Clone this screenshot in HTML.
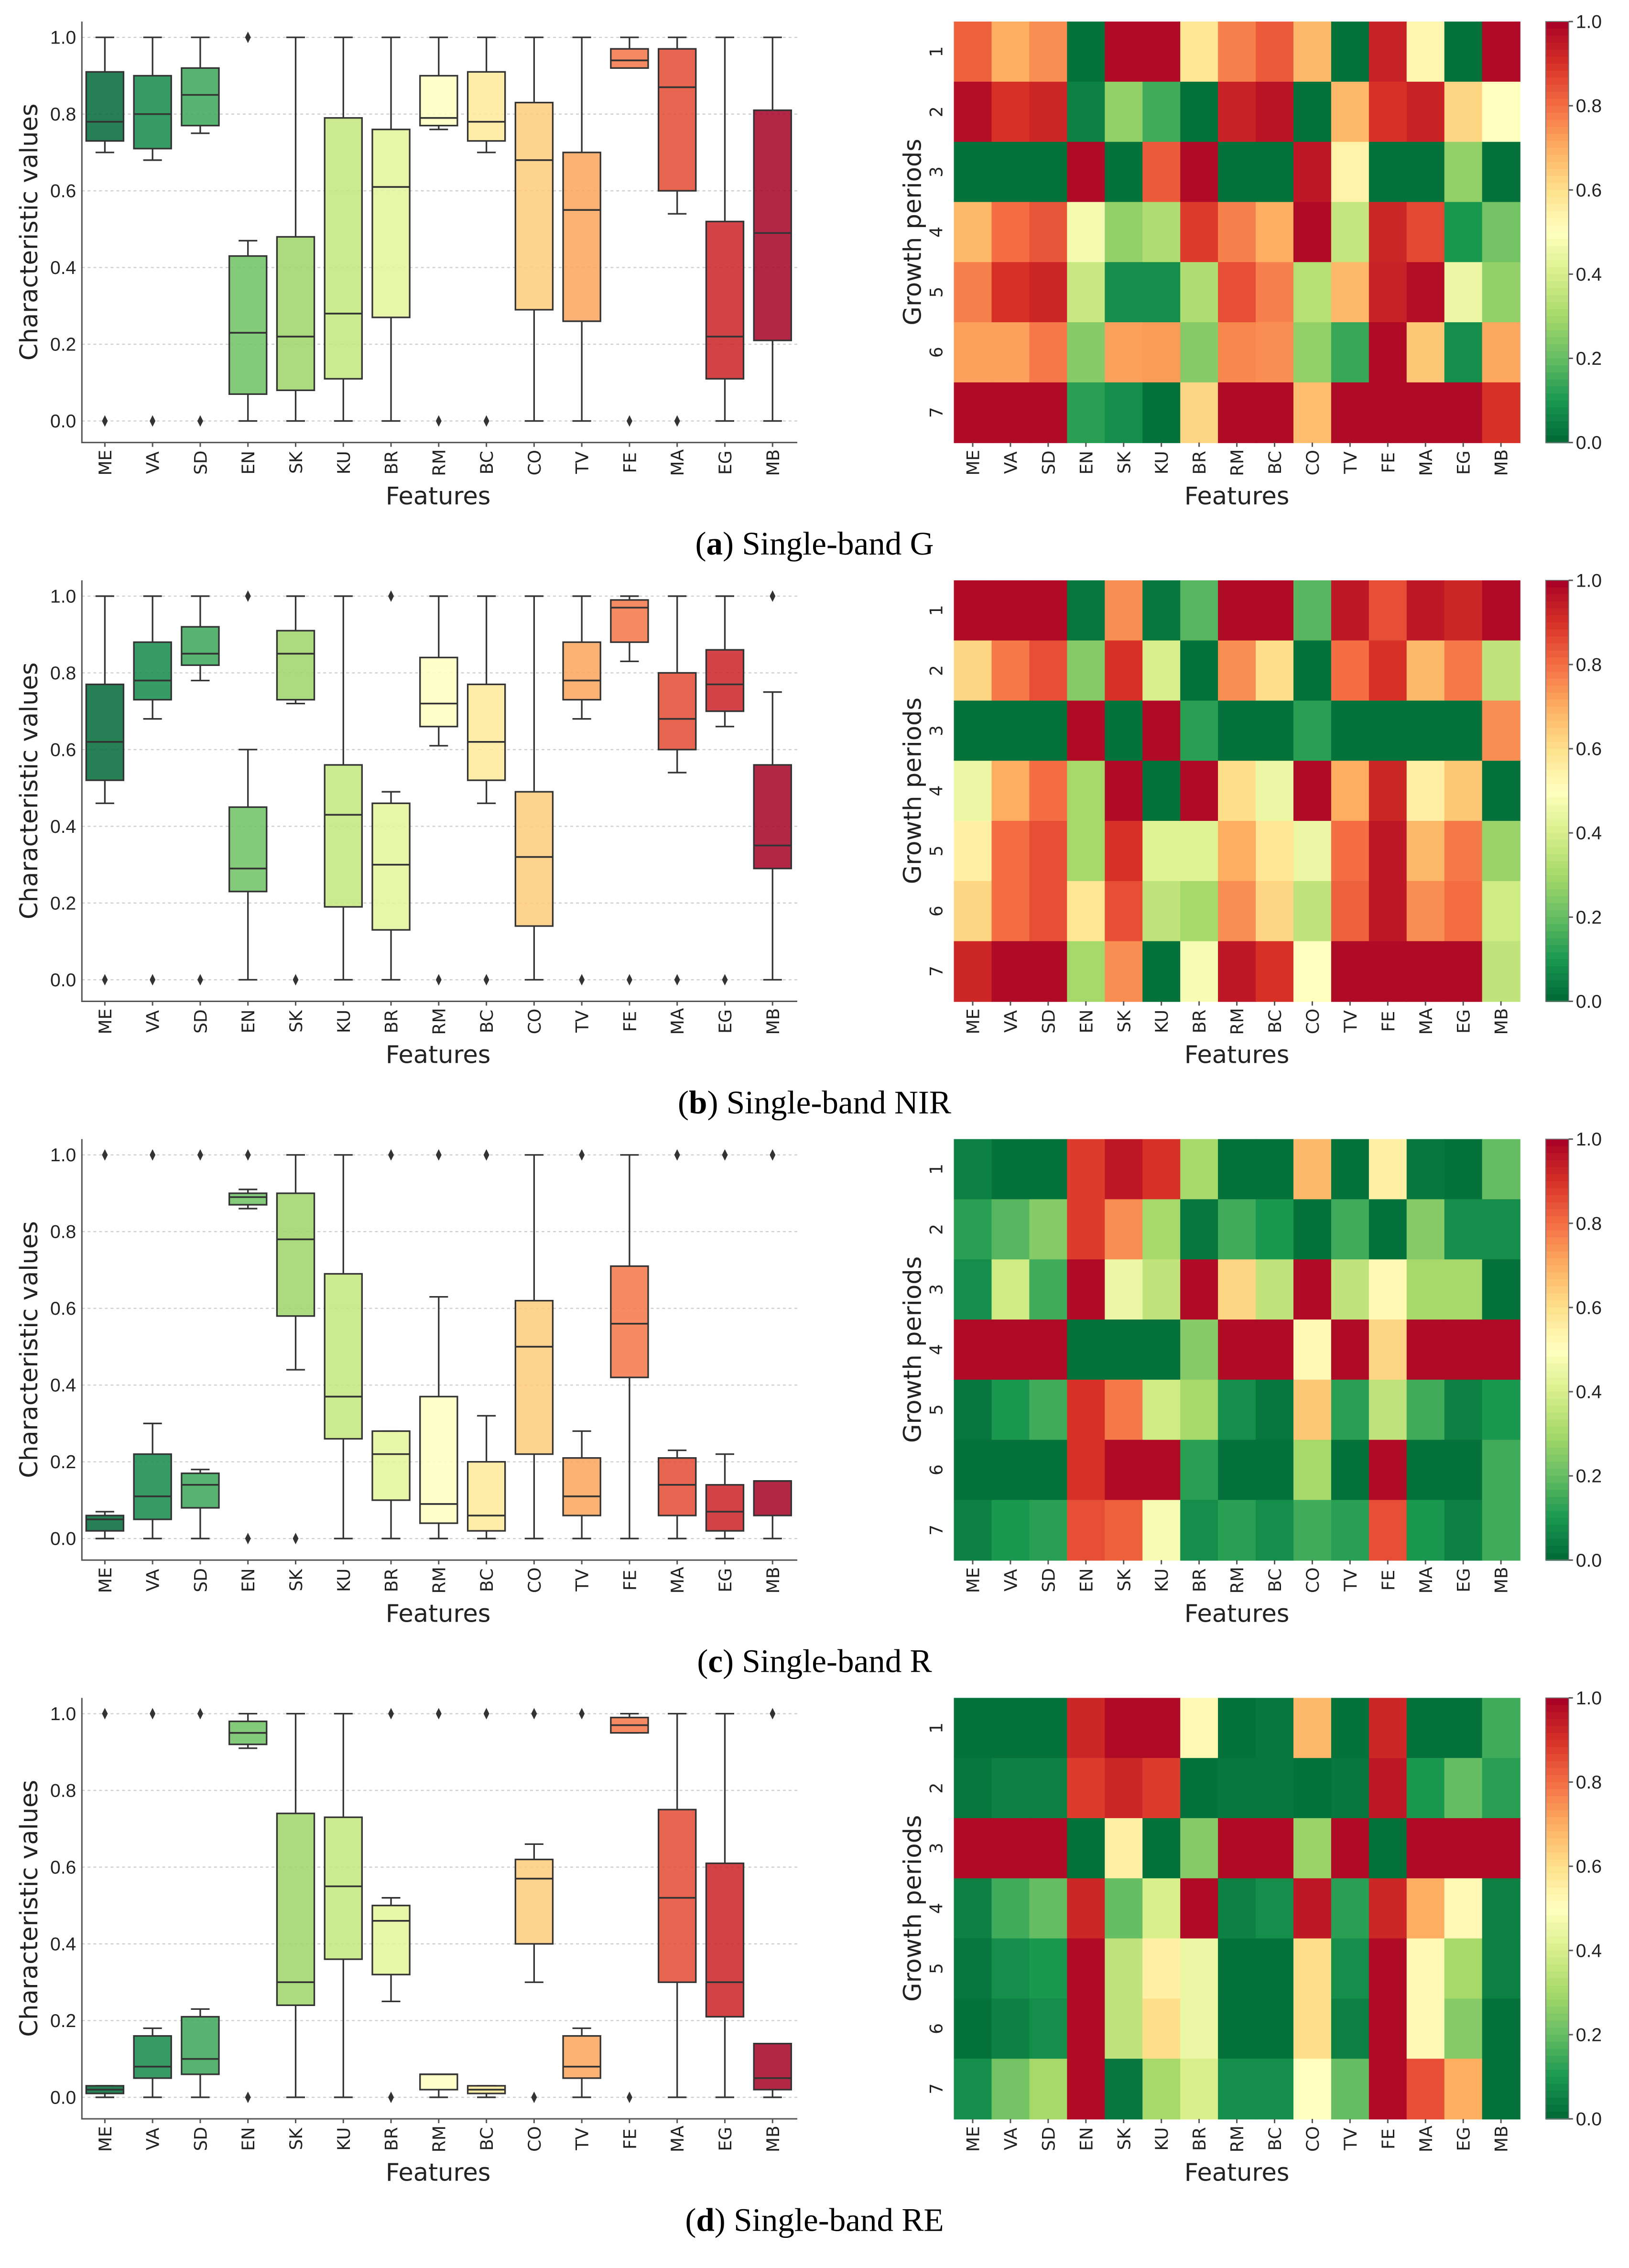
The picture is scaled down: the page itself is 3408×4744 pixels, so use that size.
<!DOCTYPE html>
<html><head><meta charset="utf-8">
<style>
html,body{margin:0;padding:0;background:#fff;}
svg{display:block;}
.tk{font-family:"Liberation Sans Narrow","Liberation Sans",sans-serif;font-size:13px;fill:#222;}
.cat{font-family:"DejaVu Sans","Liberation Sans",sans-serif;font-size:12px;fill:#222;}
.ax{font-family:"DejaVu Sans","Liberation Sans",sans-serif;font-size:17px;fill:#222;}
.cap{font-family:"Liberation Serif",serif;font-size:23px;fill:#000;}
</style></head>
<body>
<svg id="fig" width="3408" height="4744" viewBox="0 0 1134 1578.5" preserveAspectRatio="none" xmlns="http://www.w3.org/2000/svg"></svg>
<script>
const features=["ME","VA","SD","EN","SK","KU","BR","RM","BC","CO","TV","FE","MA","EG","MB"];
const periods=["1","2","3","4","5","6","7"];
const captions=[["a","Single-band G"],["b","Single-band NIR"],["c","Single-band R"],["d","Single-band RE"]];
const yTicks=[0,0.2,0.4,0.6,0.8,1.0];
const cbTicks=[0,0.2,0.4,0.6,0.8,1.0];
// boxplot stats per panel: [whiskerLow, q1, median, q3, whiskerHigh]
const boxA=[[.70,.73,.78,.91,1],[.68,.71,.80,.90,1],[.75,.77,.85,.92,1],[0,.07,.23,.43,.47],[0,.08,.22,.48,1],[0,.11,.28,.79,1],[0,.27,.61,.76,1],[.76,.77,.79,.90,1],[.70,.73,.78,.91,1],[0,.29,.68,.83,1],[0,.26,.55,.70,1],[.92,.92,.94,.97,1],[.54,.60,.87,.97,1],[0,.11,.22,.52,1],[0,.21,.49,.81,1]];
const outA=[[0],[0],[0],[1],[],[],[],[0],[0],[],[],[0],[0],[],[]];
const boxB=[[.46,.52,.62,.77,1],[.68,.73,.78,.88,1],[.78,.82,.85,.92,1],[0,.23,.29,.45,.60],[.72,.73,.85,.91,1],[0,.19,.43,.56,1],[0,.13,.30,.46,.49],[.61,.66,.72,.84,1],[.46,.52,.62,.77,1],[0,.14,.32,.49,1],[.68,.73,.78,.88,1],[.83,.88,.97,.99,1],[.54,.60,.68,.80,1],[.66,.70,.77,.86,1],[0,.29,.35,.56,.75]];
const outB=[[0],[0],[0],[1],[0],[],[1],[0],[0],[],[0],[0],[0],[0],[1]];
const boxC=[[0,.02,.05,.06,.07],[0,.05,.11,.22,.30],[0,.08,.14,.17,.18],[.86,.87,.89,.90,.91],[.44,.58,.78,.90,1],[0,.26,.37,.69,1],[0,.10,.22,.28,.28],[0,.04,.09,.37,.63],[0,.02,.06,.20,.32],[0,.22,.50,.62,1],[0,.06,.11,.21,.28],[0,.42,.56,.71,1],[0,.06,.14,.21,.23],[0,.02,.07,.14,.22],[0,.06,.15,.15,.15]];
const outC=[[1],[1],[1],[1,0],[0],[],[1],[1],[1],[],[1],[],[1],[1],[1]];
const boxD=[[0,.01,.02,.03,.03],[0,.05,.08,.16,.18],[0,.06,.10,.21,.23],[.91,.92,.95,.98,1],[0,.24,.30,.74,1],[0,.36,.55,.73,1],[.25,.32,.46,.50,.52],[0,.02,.06,.06,.06],[0,.01,.02,.03,.03],[.30,.40,.57,.62,.66],[0,.05,.08,.16,.18],[.95,.95,.97,.99,1],[0,.30,.52,.75,1],[0,.21,.30,.61,1],[0,.02,.05,.14,.14]];
const outD=[[1],[1],[1],[0],[],[],[1,0],[1],[1],[1,0],[1],[0],[],[],[1]];
const heatA=[[.82,.7,.75,.02,.98,.98,.58,.77,.83,.68,.02,.93,.53,.02,.98],[.97,.9,.92,.05,.27,.15,.02,.93,.96,.02,.68,.9,.93,.62,.5],[.02,.02,.02,.98,.02,.83,.98,.02,.02,.95,.54,.02,.02,.27,.02],[.68,.8,.84,.47,.27,.32,.88,.77,.7,.98,.36,.92,.86,.1,.22],[.77,.9,.92,.37,.08,.08,.32,.85,.77,.33,.68,.93,.97,.45,.27],[.72,.72,.78,.25,.72,.73,.25,.76,.75,.27,.14,.98,.65,.08,.71],[.98,.98,.98,.12,.08,.02,.62,.98,.98,.67,.98,.98,.98,.98,.9]];
const heatB=[[.98,.98,.98,.03,.75,.03,.18,.98,.98,.18,.95,.85,.95,.92,.98],[.62,.78,.85,.25,.9,.4,.02,.75,.6,.02,.8,.9,.68,.78,.35],[.02,.02,.02,.98,.02,.98,.12,.02,.02,.12,.02,.02,.02,.02,.75],[.45,.7,.8,.3,.98,.02,.98,.6,.45,.98,.7,.92,.55,.65,.02],[.55,.8,.85,.3,.9,.42,.42,.7,.58,.45,.8,.95,.68,.78,.28],[.62,.8,.85,.58,.85,.35,.3,.75,.62,.35,.82,.95,.75,.8,.38],[.92,.98,.98,.3,.75,.02,.48,.95,.9,.5,.98,.98,.98,.98,.35]];
const heatC=[[.05,.02,.02,.88,.95,.9,.3,.02,.02,.68,.02,.55,.03,.02,.2],[.12,.18,.25,.88,.75,.3,.03,.15,.1,.02,.15,.02,.25,.08,.08],[.08,.38,.15,.98,.45,.35,.98,.62,.35,.98,.35,.52,.3,.3,.02],[.98,.98,.98,.02,.02,.02,.25,.98,.98,.52,.98,.62,.98,.98,.98],[.03,.1,.15,.9,.78,.38,.3,.08,.03,.65,.12,.35,.15,.05,.1],[.02,.02,.02,.9,.98,.98,.12,.02,.02,.3,.02,.98,.02,.02,.15],[.05,.1,.12,.85,.82,.48,.08,.12,.08,.15,.12,.85,.1,.05,.15]];
const heatD=[[.02,.02,.02,.92,.98,.98,.52,.02,.03,.68,.02,.92,.02,.02,.15],[.03,.05,.05,.88,.92,.88,.02,.03,.03,.02,.03,.95,.1,.2,.12],[.98,.98,.98,.02,.55,.02,.25,.98,.98,.28,.98,.02,.98,.98,.98],[.05,.15,.2,.92,.2,.4,.98,.05,.08,.95,.12,.92,.7,.52,.05],[.03,.08,.1,.98,.35,.55,.45,.02,.02,.6,.08,.98,.52,.3,.05],[.02,.05,.08,.98,.35,.6,.45,.02,.02,.6,.05,.98,.52,.25,.02],[.08,.22,.3,.98,.03,.3,.4,.08,.08,.5,.2,.98,.85,.7,.02]];

const panels=[[boxA,outA,heatA],[boxB,outB,heatB],[boxC,outC,heatC],[boxD,outD,heatD]];
const stops=["#006837","#1a9850","#66bd63","#a6d96a","#d9ef8b","#ffffbf","#fee08b","#fdae61","#f46d43","#d73027","#a50026"];
function hex(h){return [1,3,5].map(i=>parseInt(h.substr(i,2),16));}
function cmap(v){v=Math.max(0,Math.min(1,v));const t=v*10,i=Math.min(9,Math.floor(t)),f=t-i;const a=hex(stops[i]),b=hex(stops[i+1]);return "rgb("+a.map((x,k)=>Math.round(x+(b[k]-x)*f)).join(",")+")";}
const NS="http://www.w3.org/2000/svg";
const svg=document.getElementById("fig");
function el(tag,attrs,parent,text){const e=document.createElementNS(NS,tag);for(const k in attrs)e.setAttribute(k,attrs[k]);if(text!==undefined)e.textContent=text;(parent||svg).appendChild(e);return e;}

panels.forEach((p,pi)=>{
  const [box,outs,heat]=p;
  const dy=pi*388.9;
  const g=el("g",{});
  
  
  // box plot axes
  const L=57,R=555,T=15+dy,B=308+dy;
  const y0=293+dy,y1=26+dy;
  const ys=v=>y0+(y1-y0)*v;
  const xs=i=>73+i*33.2;
  const bg=el("g",{},g);
  
  
  yTicks.forEach(t=>{
    const ln=el("line",{x1:L,x2:R,y1:ys(t),y2:ys(t),stroke:"#cfcfcf","stroke-width":0.8,"stroke-dasharray":"2,2"},bg);
    
    
    const tl=el("text",{x:L-4,y:ys(t)+4.5,"text-anchor":"end",class:"tk"},bg,t.toFixed(1));
    
    
  });
  const fr=el("path",{d:`M${L},${T}V${B}H${R}`,fill:"none",stroke:"#555","stroke-width":1},bg);
  
  
  box.forEach((s,i)=>{
    const x=xs(i),w=13;
    const c=cmap(i/14);
    const bx=el("g",{},bg);
    
    
    el("line",{x1:x,x2:x,y1:ys(s[0]),y2:ys(s[1]),stroke:"#333","stroke-width":1.1},bx);
    el("line",{x1:x,x2:x,y1:ys(s[3]),y2:ys(s[4]),stroke:"#333","stroke-width":1.1},bx);
    el("line",{x1:x-6.5,x2:x+6.5,y1:ys(s[0]),y2:ys(s[0]),stroke:"#333","stroke-width":1.1},bx);
    el("line",{x1:x-6.5,x2:x+6.5,y1:ys(s[4]),y2:ys(s[4]),stroke:"#333","stroke-width":1.1},bx);
    el("rect",{x:x-w,y:ys(s[3]),width:2*w,height:Math.max(0.8,ys(s[1])-ys(s[3])),fill:c,"fill-opacity":0.85,stroke:"#333","stroke-width":1.1},bx);
    el("line",{x1:x-w,x2:x+w,y1:ys(s[2]),y2:ys(s[2]),stroke:"#333","stroke-width":1.2},bx);
    outs[i].forEach(o=>{
      const d=el("path",{d:`M${x},${ys(o)-4}L${x+2},${ys(o)}L${x},${ys(o)+4}L${x-2},${ys(o)}Z`,fill:"#333"},bx);
      
      
    });
    el("line",{x1:x,x2:x,y1:B,y2:B+3,stroke:"#555"},bg);
    const cl=el("text",{x:0,y:0,class:"cat","text-anchor":"middle",transform:`translate(${x+4.5},${B+14}) rotate(-90)`},bg,features[i]);
    
    
  });
  const yt=el("text",{class:"ax","text-anchor":"middle",transform:`translate(26,${(T+B)/2}) rotate(-90)`},bg,"Characteristic values");
  
  
  const xt=el("text",{class:"ax","text-anchor":"middle",x:305,y:B+43},bg,"Features");
  
  

  // heatmap
  const hg=el("g",{},g);
  
  
  const HL=664,HR=1058,HT=15+dy,HB=308+dy;
  const cw=(HR-HL)/features.length,rh=(HB-HT)/periods.length;
  heat.forEach((row,r)=>{
    row.forEach((v,c)=>{
      const cell=el("rect",{x:HL+c*cw,y:HT+r*rh,width:cw+0.4,height:rh+0.4,fill:cmap(v)},hg);
      
      
    });
    const rl=el("text",{class:"cat","text-anchor":"middle",transform:`translate(${HL-8},${HT+(r+0.5)*rh}) rotate(-90)`},hg,periods[r]);
    
    
  });
  features.forEach((f,c)=>{
    const x=HL+(c+0.5)*cw;
    el("line",{x1:x,x2:x,y1:HB,y2:HB+3,stroke:"#555"},hg);
    const t=el("text",{class:"cat","text-anchor":"middle",transform:`translate(${x+4.5},${HB+14}) rotate(-90)`},hg,f);
    
    
  });
  const gp=el("text",{class:"ax","text-anchor":"middle",transform:`translate(641,${(HT+HB)/2}) rotate(-90)`},hg,"Growth periods");
  
  
  const hx=el("text",{class:"ax","text-anchor":"middle",x:861,y:HB+43},hg,"Features");
  
  
  // colorbar
  const cb=el("g",{},hg);
  
  
  const N=60,CX=1076,CW=16;
  for(let k=0;k<N;k++){
    el("rect",{x:CX,y:HT+(HB-HT)*k/N,width:CW,height:(HB-HT)/N+0.5,fill:cmap(1-(k+0.5)/N)},cb);
  }
  el("rect",{x:CX,y:HT,width:CW,height:HB-HT,fill:"none",stroke:"#777","stroke-width":0.6},cb);
  cbTicks.forEach(t=>{
    const y=HB-(HB-HT)*t;
    el("line",{x1:CX+CW,x2:CX+CW+3,y1:y,y2:y,stroke:"#555"},cb);
    const tl=el("text",{class:"tk",x:CX+CW+5,y:y+4.5},cb,t.toFixed(1));
    
    
  });
  // caption
  const cap=el("text",{class:"cap","text-anchor":"middle",x:567,y:386+dy},g);
  
  
  el("tspan",{},cap,"(");
  el("tspan",{"font-weight":"bold"},cap,captions[pi][0]);
  el("tspan",{},cap,") "+captions[pi][1]);
});
</script>
</body></html>
